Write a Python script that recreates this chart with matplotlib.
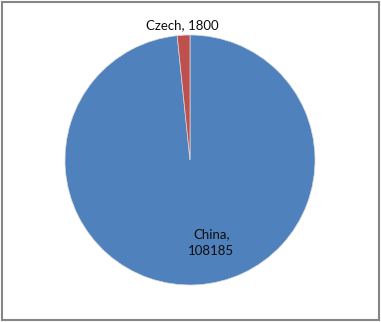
import matplotlib
matplotlib.use("Agg")
import matplotlib.pyplot as plt
from matplotlib.patches import Rectangle
import numpy as np

categories = ["China", "Czech"]
values = [108185, 1800]
colors = ["#4F81BD", "#C0504D"]

fig = plt.figure(figsize=(3.81, 3.22), dpi=100)
fig.patch.set_facecolor("white")

cx, cy, r = 190, 160, 125
W, H = 381, 322
ax = fig.add_axes([(cx - r) / W, (H - cy - r) / H, 2 * r / W, 2 * r / H])
wedges, _ = ax.pie(values, colors=colors, startangle=90, counterclock=False,
                   radius=1.0, wedgeprops=dict(linewidth=0.5, edgecolor="#d9d9d9"))
ax.set_xlim(-1, 1)
ax.set_ylim(-1, 1)
ax.set_aspect("auto")
ax.axis("off")

label_pos = {"China": (0.17, -0.66), "Czech": (-0.06, 1.08)}
for cat, val in zip(categories, values):
    x, y = label_pos[cat]
    txt = f"{cat},\n{val}" if cat == "China" else f"{cat}, {val}"
    ax.text(x, y, txt, ha="center", va="center", fontsize=9.5,
            family=["Lato", "DejaVu Sans"], color="#0d0d0d",
            linespacing=1.55, clip_on=False)

fig.add_artist(Rectangle((1.5 / W, 2.5 / H), (W - 4) / W, (H - 4.5) / H,
                         transform=fig.transFigure, fill=False,
                         edgecolor="#868686", linewidth=1.5))

fig.savefig("out.png", dpi=100)
